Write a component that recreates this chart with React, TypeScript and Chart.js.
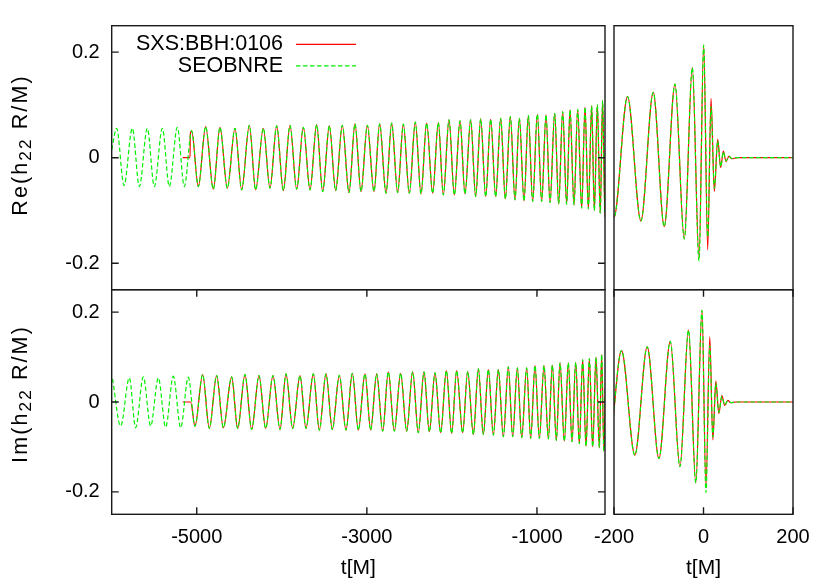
import React, { useEffect, useRef } from 'react';
import { Chart, registerables } from 'chart.js';

Chart.register(...registerables);

// ---------------- data (extrema) ----------------
type P = [number, number];

const SERIES_LABELS = ['SXS:BBH:0106', 'SEOBNRE'];
const LEFT_X_RANGE: P = [-6000, -200];
const RIGHT_X_RANGE: P = [-200, 200];
const LEFT_X_TICKS = [-5000, -3000, -1000];
const RIGHT_X_TICKS = [-200, 0, 200];
const Y_RANGE: P = [-0.25, 0.25];
const Y_TICKS = [-0.2, 0, 0.2];
const X_TITLE = 't[M]';

// Re(h22): SEOBNRE only part (before the numerical waveform starts)
const RE_SEOB_EARLY: P[] = [
  [-6000, 0.015], [-5941.7, 0.0558], [-5855.4, -0.0527], [-5757.5, 0.0558], [-5675.2, -0.0547],
  [-5581.1, 0.0558], [-5498.8, -0.0547], [-5404.7, 0.0558], [-5322.4, -0.0547], [-5228.4, 0.0577],
  [-5146.1, -0.0547], [-5059.9, 0.0507],
];
// Re(h22): start of the SXS waveform (flat junk then jump)
const RE_SXS_START: P[] = [[-5165, 0], [-5079, 0], [-5076, 0.045], [-5060, 0.0507]];
// Re(h22): inspiral, both curves overlap
const RE_INSPIRAL: P[] = [
  [-4981.5, -0.0547], [-4895.3, 0.0589], [-4805.1, -0.0597], [-4726.8, 0.0577], [-4640.5, -0.0577],
  [-4550.4, 0.0558], [-4472.0, -0.0609], [-4381.9, 0.0615], [-4307.4, -0.0609], [-4217.3, 0.0558],
  [-4138.9, -0.0577], [-4060, 0.0602], [-3981.9, -0.0622], [-3903.6, 0.0615], [-3825.2, -0.0597],
  [-3746.8, 0.0577], [-3668.4, -0.0609], [-3590.1, 0.0626], [-3519.5, -0.0641], [-3441.1, 0.0602],
  [-3366.7, -0.0622], [-3288.3, 0.0615], [-3209.9, -0.066], [-3139.4, 0.064], [-3068.8, -0.0641],
  [-2994.3, 0.0615], [-2916.0, -0.0641], [-2849.3, 0.064], [-2774.9, -0.0672], [-2708.3, 0.0653],
  [-2637.7, -0.066], [-2571.1, 0.0634], [-2500.6, -0.0672], [-2430.0, 0.0672], [-2363.4, -0.0685],
  [-2296.8, 0.0653], [-2226.2, -0.0672], [-2159.6, 0.0666], [-2100.8, -0.0704], [-2034.1, 0.0715],
  [-1971.3, -0.0704], [-1904.7, 0.0696], [-1845.9, -0.0685], [-1779.3, 0.0715], [-1720.5, -0.0736],
  [-1661.7, 0.0734], [-1602.9, -0.0736], [-1544.1, 0.0728], [-1485.3, -0.0736], [-1426.5, 0.0747],
  [-1371.7, -0.078], [-1312.9, 0.0778], [-1258.0, -0.0798], [-1207.1, 0.0747], [-1152.2, -0.0817],
  [-1101.3, 0.0797], [-1050.3, -0.083], [-995.4, 0.0823], [-944.5, -0.083], [-893.5, 0.081],
  [-846.5, -0.0849], [-791.6, 0.0842], [-744.6, -0.0874], [-697.6, 0.0872], [-650.6, -0.088],
  [-611.4, 0.0904], [-564.4, -0.0893], [-521.3, 0.0918], [-474.2, -0.0956], [-435.0, 0.0955],
  [-395.8, -0.0969], [-356.6, 0.098], [-325.3, -0.1], [-290.0, 0.0999], [-256, -0.105], [-228, 0.108],
];
// Re(h22): merger and ringdown
const RE_MERGER_SXS: P[] = [
  [-200, -0.1126], [-169.8, 0.1156], [-139.9, -0.1196], [-112.3, 0.1239], [-87.7, -0.1303],
  [-63.8, 0.1395], [-42.9, -0.1536], [-25.0, 0.1705], [-10.0, -0.19], [0.4, 0.2134],
  [9.4, -0.1745], [16.8, 0.1126], [24.2, -0.064], [31.7, 0.035], [38.4, -0.0187],
  [44.4, 0.0125], [50.4, -0.0073], [57, 0.003], [63, -0.002], [75, 0], [200, 0],
];
const RE_MERGER_SEOB: P[] = [
  [-200, -0.1126], [-169.8, 0.1156], [-139.9, -0.1196], [-112.3, 0.1239], [-87.7, -0.1303],
  [-63.8, 0.1395], [-42.9, -0.1536], [-25.0, 0.1705], [-10.0, -0.1953], [0.4, 0.2134],
  [9.4, -0.15], [16.8, 0.097], [24.2, -0.058], [31.7, 0.032], [38.4, -0.017],
  [44.4, 0.011], [50.4, -0.006], [57, 0.0025], [63, -0.0015], [75, 0], [200, 0],
];

// Im(h22)
const IM_SEOB_EARLY: P[] = [
  [-5990, 0.0515], [-5894.6, -0.0537], [-5792.7, 0.0537], [-5718.3, -0.0574], [-5628.1, 0.056],
  [-5541.9, -0.0537], [-5451.8, 0.0537], [-5365.6, -0.056], [-5275.4, 0.0574], [-5189.2, -0.0574],
  [-5099.1, 0.0552],
];
const IM_SXS_START: P[] = [[-5166, 0], [-5072, 0]];
const IM_INSPIRAL: P[] = [
  [-5020.7, -0.0537], [-4930.6, 0.0611], [-4852.2, -0.0589], [-4766.0, 0.0589], [-4687.6, -0.0574],
  [-4589.6, 0.056], [-4519.1, -0.0589], [-4432.9, 0.0611], [-4354.5, -0.0611], [-4268.2, 0.0589],
  [-4189.8, -0.0589], [-4103.5, 0.0589], [-4021.2, -0.0611], [-3950.6, 0.0626], [-3872.2, -0.0589],
  [-3786.0, 0.0589], [-3715.4, -0.0589], [-3629.2, 0.0626], [-3558.7, -0.0626], [-3480.3, 0.0626],
  [-3405.8, -0.0611], [-3323.5, 0.0596], [-3245.2, -0.0626], [-3170.7, 0.064], [-3100.2, -0.0626],
  [-3021.8, 0.0626], [-2955.2, -0.0626], [-2884.6, 0.0626], [-2814.1, -0.0649], [-2747.5, 0.0671],
  [-2676.9, -0.0649], [-2602.5, 0.064], [-2531.9, -0.0649], [-2461.4, 0.0671], [-2395.0, -0.0685],
  [-2328.1, 0.0671], [-2265.4, -0.0663], [-2198.8, 0.0649], [-2132.2, -0.0685], [-2065.5, 0.07],
  [-2002.6, -0.07], [-1943.9, 0.07], [-1873.3, -0.0685], [-1814.5, 0.0685], [-1747.9, -0.0722],
  [-1689.1, 0.0737], [-1630.3, -0.0722], [-1571.5, 0.0722], [-1512.8, -0.0737], [-1454.0, 0.0722],
  [-1395.2, -0.0774], [-1336.4, 0.0782], [-1285.5, -0.0774], [-1230.6, 0.076], [-1179.6, -0.0796],
  [-1120.9, 0.076], [-1073.8, -0.0811], [-1022.9, 0.0811], [-972.0, -0.0811], [-917.1, 0.0811],
  [-866.1, -0.0819], [-819.1, 0.0819], [-772.1, -0.0856], [-729.0, 0.0871], [-678.0, -0.0871],
  [-631.0, 0.0871], [-587.9, -0.0885], [-544.8, 0.0885], [-501.7, -0.0929], [-462.5, 0.0944],
  [-423.3, -0.0982], [-384.1, 0.0967], [-344.9, -0.0996], [-305.7, 0.0996], [-266.6, -0.1019],
  [-239.1, 0.1056], [-213, -0.1093],
];
const IM_MERGER_SXS: P[] = [
  [-183.2, 0.1144], [-153.4, -0.1182], [-125.8, 0.1226], [-99.6, -0.1256], [-74.3, 0.1352],
  [-52.6, -0.144], [-33.5, 0.16], [-17.2, -0.18], [-3.4, 0.204], [5.5, -0.188],
  [14.0, 0.1448], [20.9, -0.0845], [27.6, 0.0463], [34.3, -0.0256], [41.0, 0.0144],
  [47.4, -0.0078], [54.5, 0.0035], [61, -0.0015], [72, 0], [200, 0],
];
const IM_MERGER_SEOB: P[] = [
  [-183.2, 0.1144], [-153.4, -0.1182], [-125.8, 0.1226], [-99.6, -0.1256], [-74.3, 0.1352],
  [-52.6, -0.144], [-33.5, 0.16], [-17.2, -0.18], [-3.4, 0.204], [5.5, -0.2015],
  [14.0, 0.125], [20.9, -0.078], [27.6, 0.042], [34.3, -0.023], [41.0, 0.0125],
  [47.4, -0.0068], [54.5, 0.003], [61, -0.0013], [72, 0], [200, 0],
];

// ---------------- assembly ----------------
const RE_SXS = [...RE_SXS_START, ...RE_INSPIRAL, ...RE_MERGER_SXS];
const RE_SEOB = [...RE_SEOB_EARLY, ...RE_INSPIRAL, ...RE_MERGER_SEOB];
const IM_SXS = [...IM_SXS_START, ...IM_INSPIRAL, ...IM_MERGER_SXS];
const IM_SEOB = [...IM_SEOB_EARLY, ...IM_INSPIRAL, ...IM_MERGER_SEOB];

const FONT = '"Liberation Sans", Arial, Helvetica, sans-serif';
const W = 830;
const H = 581;
const Y_AXIS_W = 60;

type Panel = {
  id: string;
  area: { l: number; t: number; r: number; b: number };
  xRange: P;
  xTicks: number[];
  showX: boolean;
  showY: boolean;
  sides: { left: boolean; right: boolean; top: boolean; bottom: boolean };
  sxs: P[];
  seob: P[];
  legend: boolean;
};

const PANELS: Panel[] = [
  { id: 'tl', area: { l: 111.7, t: 25.7, r: 605, b: 289.7 }, xRange: LEFT_X_RANGE, xTicks: LEFT_X_TICKS,
    showX: false, showY: true, sides: { left: true, right: true, top: false, bottom: false },
    sxs: RE_SXS, seob: RE_SEOB, legend: true },
  { id: 'bl', area: { l: 111.7, t: 289.7, r: 605, b: 514.3 }, xRange: LEFT_X_RANGE, xTicks: LEFT_X_TICKS,
    showX: true, showY: true, sides: { left: true, right: true, top: true, bottom: true },
    sxs: IM_SXS, seob: IM_SEOB, legend: false },
  { id: 'tr', area: { l: 614, t: 25.7, r: 793, b: 289.7 }, xRange: RIGHT_X_RANGE, xTicks: RIGHT_X_TICKS,
    showX: false, showY: false, sides: { left: false, right: false, top: false, bottom: false },
    sxs: RE_SXS, seob: RE_SEOB, legend: false },
  { id: 'br', area: { l: 614, t: 289.7, r: 793, b: 514.3 }, xRange: RIGHT_X_RANGE, xTicks: RIGHT_X_TICKS,
    showX: true, showY: false, sides: { left: false, right: false, top: true, bottom: true },
    sxs: IM_SXS, seob: IM_SEOB, legend: false },
];

const framePlugin = {
  id: 'frame',
  afterDatasetsDraw(chart: any, _args: any, opts: any) {
    const { ctx, chartArea: a, scales } = chart;
    ctx.save();
    ctx.strokeStyle = '#1a1a1a';
    ctx.lineWidth = 1.4;
    ctx.strokeRect(a.left, a.top, a.right - a.left, a.bottom - a.top);
    const L = 7;
    ctx.beginPath();
    for (const v of opts.yTicks) {
      const y = scales.y.getPixelForValue(v);
      if (opts.sides.left) { ctx.moveTo(a.left, y); ctx.lineTo(a.left + L, y); }
      if (opts.sides.right) { ctx.moveTo(a.right, y); ctx.lineTo(a.right - L, y); }
    }
    for (const v of opts.xTicks) {
      const x = scales.x.getPixelForValue(v);
      if (opts.sides.bottom) { ctx.moveTo(x, a.bottom); ctx.lineTo(x, a.bottom - L); }
      if (opts.sides.top) { ctx.moveTo(x, a.top); ctx.lineTo(x, a.top + L); }
    }
    ctx.stroke();
    ctx.restore();
  },
};

const keyPlugin = {
  id: 'key',
  afterDatasetsDraw(chart: any, _args: any, opts: any) {
    if (!opts.show) return;
    const { ctx } = chart;
    ctx.save();
    ctx.font = `21.5px ${FONT}`;
    ctx.textAlign = 'right';
    ctx.textBaseline = 'middle';
    chart.data.datasets.forEach((ds: any, i: number) => {
      const y = opts.y0 + i * opts.dy;
      ctx.fillStyle = '#000';
      ctx.fillText(ds.label, opts.textRight, y);
      ctx.strokeStyle = ds.borderColor;
      ctx.lineWidth = ds.borderWidth;
      ctx.setLineDash(ds.borderDash || []);
      ctx.beginPath();
      ctx.moveTo(opts.lineX0, y);
      ctx.lineTo(opts.lineX1, y);
      ctx.stroke();
    });
    ctx.restore();
  },
};

function toXY(arr: P[]) {
  return arr.map(([x, y]) => ({ x, y }));
}

function buildConfig(p: Panel): any {
  const xH = H - p.area.b;
  return {
    type: 'line',
    data: {
      datasets: [
        { label: SERIES_LABELS[0], data: toXY(p.sxs), borderColor: '#ff0000', borderWidth: 1.2, order: 1 },
        { label: SERIES_LABELS[1], data: toXY(p.seob), borderColor: '#00f000', borderWidth: 1.2,
          borderDash: [4.5, 2.5], order: 0 },
      ],
    },
    options: {
      responsive: false,
      animation: false,
      events: [],
      layout: {
        padding: {
          left: p.showY ? p.area.l - Y_AXIS_W : p.area.l,
          right: W - p.area.r,
          top: p.area.t,
          bottom: p.showX ? 0 : H - p.area.b,
        },
      },
      elements: {
        point: { radius: 0, hitRadius: 0, hoverRadius: 0 },
        line: { cubicInterpolationMode: 'monotone', fill: false, borderCapStyle: 'butt' },
      },
      plugins: {
        legend: { display: false },
        tooltip: { enabled: false },
        frame: { yTicks: Y_TICKS, xTicks: p.xTicks, sides: p.sides },
        key: { show: p.legend, textRight: 283, lineX0: 296, lineX1: 356, y0: 44.3, dy: 21.5 },
      },
      scales: {
        x: {
          type: 'linear',
          min: p.xRange[0],
          max: p.xRange[1],
          display: p.showX,
          grid: { display: false, drawTicks: false },
          border: { display: false },
          afterBuildTicks: (s: any) => { s.ticks = p.xTicks.map((v) => ({ value: v })); },
          afterFit: (s: any) => { s.height = p.showX ? xH : 0; },
          ticks: { padding: 11, autoSkip: false, maxRotation: 0, font: { size: 20, family: FONT },
            color: '#000', callback: (v: any) => String(v) },
          title: { display: p.showX, text: X_TITLE, padding: { top: 0, bottom: 0 }, font: { size: 21, family: FONT },
            color: '#000' },
        },
        y: {
          type: 'linear',
          min: Y_RANGE[0],
          max: Y_RANGE[1],
          display: p.showY,
          grid: { display: false, drawTicks: false },
          border: { display: false },
          afterBuildTicks: (s: any) => { s.ticks = Y_TICKS.map((v) => ({ value: v })); },
          afterFit: (s: any) => { s.width = p.showY ? Y_AXIS_W : 0; },
          ticks: { padding: 12, font: { size: 20, family: FONT }, color: '#000',
            callback: (v: any) => String(v) },
        },
      },
    },
    plugins: [framePlugin, keyPlugin],
  };
}

const yLabelStyle = (cy: number): React.CSSProperties => ({
  position: 'absolute',
  left: 21,
  top: cy,
  transform: 'translate(-50%, -50%) rotate(-90deg)',
  whiteSpace: 'nowrap',
  fontFamily: FONT,
  fontSize: 21.5,
  letterSpacing: '2.1px',
  lineHeight: '21px',
  color: '#000',
});
const subStyle: React.CSSProperties = {
  fontSize: '0.8em',
  verticalAlign: 'baseline',
  position: 'relative',
  top: '0.24em',
};

export default function App() {
  const canvases = useRef<(HTMLCanvasElement | null)[]>([]);
  useEffect(() => {
    const charts = PANELS.map((p, i) => new Chart(canvases.current[i] as HTMLCanvasElement, buildConfig(p)));
    return () => charts.forEach((c) => c.destroy());
  }, []);
  return (
    <div style={{ position: 'absolute', left: 0, top: 0, width: W, height: H, background: '#fff', overflow: 'hidden' }}>
      {PANELS.map((p, i) => (
        <canvas
          key={p.id}
          ref={(el) => { canvases.current[i] = el; }}
          width={W}
          height={H}
          style={{ position: 'absolute', left: 0, top: 0, width: W, height: H }}
        />
      ))}
      <div style={yLabelStyle(145)}>Re(h<sub style={subStyle}>22</sub> R/M)</div>
      <div style={yLabelStyle(394)}>Im(h<sub style={subStyle}>22</sub> R/M)</div>
    </div>
  );
}
